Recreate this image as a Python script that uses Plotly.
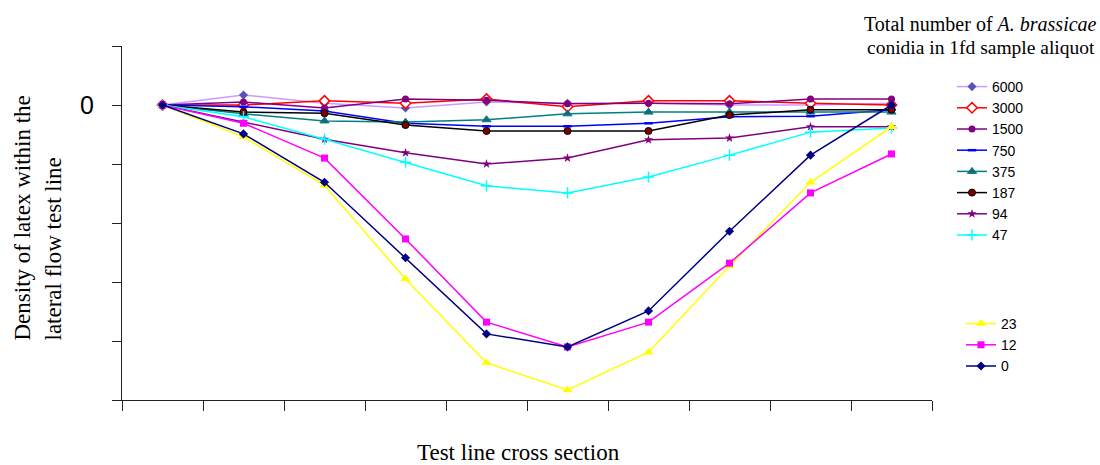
import plotly.graph_objects as go

# ---- data ----
positions = ["1", "2", "3", "4", "5", "6", "7", "8", "9", "10"]
series_names = ["6000", "3000", "1500", "750", "375", "187", "94", "47", "23", "12", "0"]
s6000 = [0, 0.17, 0.03, -0.05, 0.05, 0.03, 0.03, 0.0, 0.0, 0.03]
s3000 = [0, 0.0, 0.07, 0.03, 0.10, -0.03, 0.07, 0.07, 0.03, 0.0]
s1500 = [0, 0.05, -0.05, 0.10, 0.08, 0.02, 0.03, 0.02, 0.10, 0.10]
s750 = [0, -0.03, -0.10, -0.31, -0.36, -0.36, -0.31, -0.20, -0.19, -0.08]
s375 = [0, -0.15, -0.27, -0.29, -0.25, -0.15, -0.12, -0.12, -0.12, -0.12]
s187 = [0, -0.12, -0.14, -0.34, -0.44, -0.44, -0.44, -0.17, -0.08, -0.08]
s94 = [0, -0.29, -0.58, -0.81, -1.00, -0.90, -0.59, -0.56, -0.37, -0.37]
s47 = [0, -0.20, -0.58, -0.97, -1.37, -1.49, -1.22, -0.85, -0.46, -0.39]
s23 = [0, -0.54, -1.36, -2.95, -4.37, -4.83, -4.19, -2.73, -1.31, -0.37]
s12 = [0, -0.31, -0.90, -2.27, -3.68, -4.10, -3.68, -2.68, -1.49, -0.83]
s0 = [0, -0.49, -1.31, -2.59, -3.88, -4.10, -3.49, -2.14, -0.85, 0.0]
y_tickvals = [1, 0, -1, -2, -3, -4, -5]
y_ticktext = ["", "0", "", "", "", "", ""]

series_values = [s6000, s3000, s1500, s750, s375, s187, s94, s47, s23, s12, s0]

styles = {
    "6000": dict(line="#CC99FF", symbol="diamond", mcolor="#5B4FC0", mline="#5B4FC0", size=7, lw=0),
    "3000": dict(line="#FF0000", symbol="diamond", mcolor="#FFFFFF", mline="#FF0000", size=8, lw=1.5),
    "1500": dict(line="#800080", symbol="circle", mcolor="#800080", mline="#800080", size=7, lw=0),
    "750": dict(line="#0000FF", symbol="line-ew", mcolor="#0000FF", mline="#0000FF", size=6, lw=2.5),
    "375": dict(line="#008080", symbol="triangle-up", mcolor="#1F6477", mline="#008080", size=8, lw=1),
    "187": dict(line="#000000", symbol="circle", mcolor="#800000", mline="#000000", size=7, lw=1),
    "94": dict(line="#800080", symbol="star", mcolor="#800080", mline="#800080", size=7, lw=0),
    "47": dict(line="#00FFFF", symbol="cross-thin", mcolor="#00FFFF", mline="#00FFFF", size=8, lw=1.5),
    "23": dict(line="#FFFF00", symbol="triangle-up", mcolor="#FFFF00", mline="#FFFF00", size=9, lw=0),
    "12": dict(line="#FF00FF", symbol="square", mcolor="#FF00FF", mline="#FF00FF", size=7, lw=0),
    "0": dict(line="#000080", symbol="diamond", mcolor="#000080", mline="#000080", size=7, lw=0),
}

fig = go.Figure()
for name, vals in zip(series_names, series_values):
    st = styles[name]
    fig.add_trace(go.Scatter(
        x=positions, y=vals, name=name, mode="lines+markers",
        line=dict(color=st["line"], width=1.5),
        marker=dict(symbol=st["symbol"], color=st["mcolor"], size=st["size"],
                    line=dict(color=st["mline"], width=st["lw"])),
        legend="legend2" if name in ("23", "12", "0") else "legend",
    ))

W, H = 1100, 465
L, R, T, B = 122, 932, 46, 400
pw, ph = R - L, B - T


def px(x):
    return (x - L) / pw


def py(y):
    return (B - y) / ph


serif = "Times New Roman, Liberation Serif"
sans = "Arial, Liberation Sans"


def note(text, x, y, xa="center", ya="middle", size=21, angle=0):
    return dict(text=text, x=px(x), y=py(y), xref="paper", yref="paper",
                showarrow=False, xanchor=xa, yanchor=ya, textangle=angle,
                font=dict(family=serif, size=size, color="#000"))


fig.update_layout(
    width=W, height=H,
    margin=dict(l=L, r=W - R, t=T, b=H - B, pad=0),
    plot_bgcolor="white", paper_bgcolor="white",
    showlegend=True,
    legend=dict(x=px(952), y=py(71), xanchor="left", yanchor="top",
                font=dict(family=sans, size=14, color="#000"),
                bgcolor="rgba(0,0,0,0)", tracegroupgap=0),
    legend2=dict(x=px(961), y=py(308), xanchor="left", yanchor="top",
                 font=dict(family=sans, size=14, color="#000"),
                 bgcolor="rgba(0,0,0,0)", tracegroupgap=0),
    xaxis=dict(type="category", range=[-0.5, 9.5], showgrid=False, zeroline=False,
               showline=True, linecolor="#222", linewidth=1,
               ticks="outside", ticklen=10, tickcolor="#222", tickson="boundaries",
               showticklabels=False),
    yaxis=dict(range=[-5, 1], showgrid=False, zeroline=False,
               showline=True, linecolor="#222", linewidth=1,
               ticks="outside", ticklen=9, tickcolor="#222",
               tickvals=y_tickvals, ticktext=y_ticktext,
               tickfont=dict(family=sans, size=25, color="#000"),
               ticklabelstandoff=13),
    annotations=[
        note("Test line cross section", 518, 452, size=23),
        note("Density of latex within the", 22, 343, ya="bottom", size=23, angle=-90),
        note("lateral flow test line", 53, 343, ya="bottom", size=23, angle=-90),
        note("Total number of <i>A. brassicae</i>", 1099, 24, xa="right", size=20),
        note("conidia in 1fd sample aliquot", 1097, 47, xa="right", size=19.5),
    ],
)

fig.write_html("out.html", config={"displayModeBar": False},
               post_script="document.body.style.margin='0';")
